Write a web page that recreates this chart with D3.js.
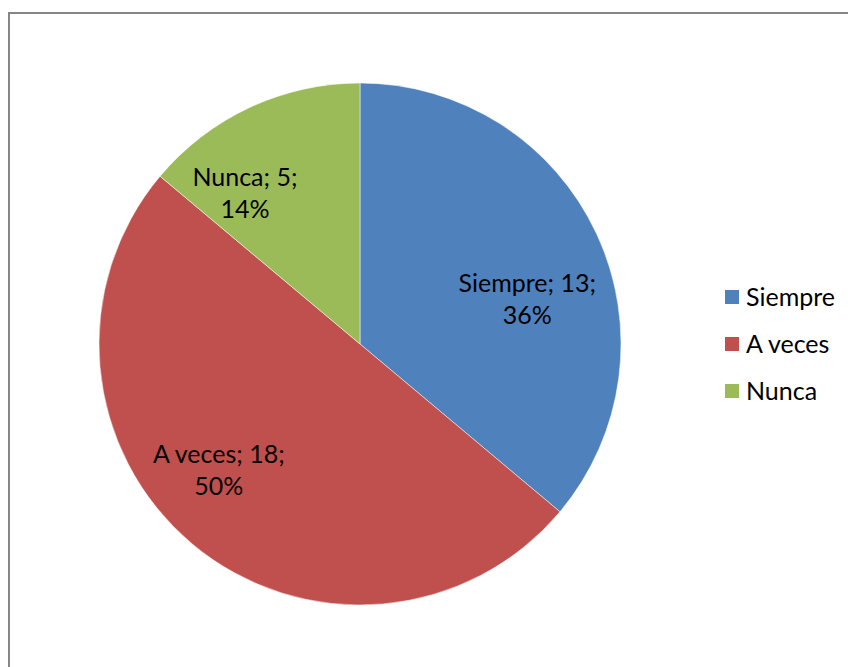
<html>
<head>
<meta charset="UTF-8">
<title>Pie</title>
<script src="https://d3js.org/d3.v7.min.js"></script>
<style>
  body { margin: 0; background: #fff; }
  svg text { font-family: Lato, "Open Sans", sans-serif; fill: #000; }
</style>
</head>
<body>
<svg width="848" height="667"></svg>
<script>
// chart data
var categories = ["Siempre", "A veces", "Nunca"];
var values = [13, 18, 5];
var percents = ["36%", "50%", "14%"];
var colors = ["#4F81BD", "#C0504D", "#9BBB59"];

var svg = d3.select("svg");

// outer frame
svg.append("rect")
    .attr("x", 9).attr("y", 13)
    .attr("width", 860).attr("height", 680)
    .attr("fill", "#fff")
    .attr("stroke", "#868686")
    .attr("stroke-width", 2);

var cx = 360, cy = 344, radius = 261;

var pie = d3.pie().sort(null).value(function(d) { return d; });
var arcs = pie(values);

var arc = d3.arc().innerRadius(0).outerRadius(radius);

var g = svg.append("g").attr("transform", "translate(" + cx + "," + cy + ")");

g.selectAll("path")
  .data(arcs)
  .enter().append("path")
    .attr("d", arc)
    .attr("fill", function(d, i) { return colors[i]; })
    .attr("stroke", "#fff")
    .attr("stroke-width", 0.5);

// label placement (excel "best fit" look): angle shift in degrees, distance from centre
var labelPos = [[10.2, 173], [8, 190], [-12.5, 189]];

g.selectAll("text.lbl")
  .data(arcs)
  .enter().append("text")
    .attr("class", "lbl")
    .attr("text-anchor", "middle")
    .attr("font-size", 25)
    .attr("transform", function(d, i) {
      var a = (d.startAngle + d.endAngle) / 2 + labelPos[i][0] * Math.PI / 180;
      var r = labelPos[i][1];
      return "translate(" + (Math.sin(a) * r) + "," + (-Math.cos(a) * r) + ")";
    })
    .each(function(d, i) {
      var t = d3.select(this);
      t.append("tspan").attr("x", 0).attr("y", -8).text(categories[i] + "; " + values[i] + ";");
      t.append("tspan").attr("x", 0).attr("y", 24).text(percents[i]);
    });

// legend
var legend = svg.append("g").attr("transform", "translate(725,290)");
var item = legend.selectAll("g")
  .data(categories)
  .enter().append("g")
    .attr("transform", function(d, i) { return "translate(0," + (i * 47) + ")"; });
item.append("rect")
    .attr("width", 14).attr("height", 14)
    .attr("fill", function(d, i) { return colors[i]; });
item.append("text")
    .attr("x", 21).attr("y", 16)
    .attr("font-size", 25)
    .text(function(d) { return d; });
</script>
</body>
</html>
